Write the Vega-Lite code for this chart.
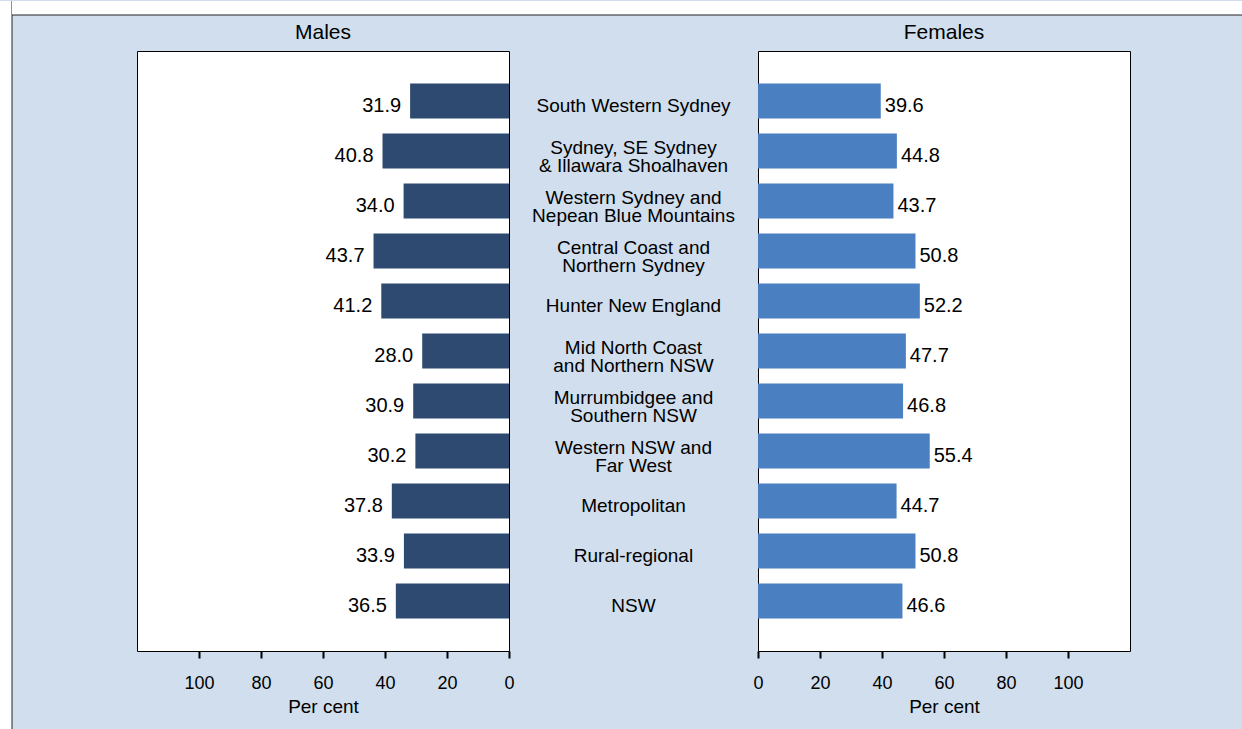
{
  "$schema": "https://vega.github.io/schema/vega-lite/v6.json",
  "background": "#d0deed",
  "padding": 0,
  "config": {
    "font": "Liberation Sans",
    "view": {"stroke": null},
    "concat": {"spacing": 0},
    "axis": {
      "labelFontSize": 18,
      "titleFontSize": 19,
      "titleFontWeight": "normal",
      "labelColor": "black",
      "titleColor": "black",
      "tickColor": "black",
      "tickSize": 7,
      "tickWidth": 2,
      "domain": false,
      "grid": false,
      "labelFlush": false,
      "labelPadding": 16.5,
      "titlePadding": 4.5
    },
    "title": {"fontSize": 21, "fontWeight": "normal", "color": "black", "offset": 8}
  },
  "datasets": {
    "d": [
      {"region": "South Western Sydney", "male": 31.9, "female": 39.6},
      {"region": "Sydney, SE Sydney\n& Illawara Shoalhaven", "male": 40.8, "female": 44.8},
      {"region": "Western Sydney and\nNepean Blue Mountains", "male": 34.0, "female": 43.7},
      {"region": "Central Coast and\nNorthern Sydney", "male": 43.7, "female": 50.8},
      {"region": "Hunter New England", "male": 41.2, "female": 52.2},
      {"region": "Mid North Coast\nand Northern NSW", "male": 28.0, "female": 47.7},
      {"region": "Murrumbidgee and\nSouthern NSW", "male": 30.9, "female": 46.8},
      {"region": "Western NSW and\nFar West", "male": 30.2, "female": 55.4},
      {"region": "Metropolitan", "male": 37.8, "female": 44.7},
      {"region": "Rural-regional", "male": 33.9, "female": 50.8},
      {"region": "NSW", "male": 36.5, "female": 46.6}
    ],
    "edge": [{"v": 0, "h": 1}]
  },
  "spacing": 0,
  "bounds": "flush",
  "hconcat": [
    {
      "data": {"name": "edge"},
      "width": 12,
      "height": 729,
      "view": {"fill": "white", "stroke": null},
      "mark": {"type": "rule", "color": "#222222", "strokeWidth": 1},
      "encoding": {
        "x": {"field": "h", "type": "quantitative", "scale": {"domain": [0, 1]}, "axis": null}
      }
    },
    {
      "spacing": 5,
      "vconcat": [
        {
          "data": {"name": "edge"},
          "width": 1230,
          "height": 14,
          "view": {"fill": "white", "stroke": null},
          "mark": {"type": "rule", "color": "#222222", "strokeWidth": 1},
          "encoding": {
            "y": {"field": "v", "type": "quantitative", "scale": {"domain": [0, 1]}, "axis": null}
          }
        },
        {
          "spacing": 0,
          "bounds": "flush",
          "hconcat": [
            {
              "data": {"name": "edge"},
              "width": 125,
              "height": 600,
              "mark": {"type": "point", "opacity": 0},
              "encoding": {}
            },
            {
              "data": {"name": "d"},
              "width": 372,
              "height": 600,
              "title": "Males",
              "view": {"fill": "white", "stroke": "black", "strokeWidth": 1},
              "encoding": {
                "y": {"field": "region", "type": "nominal", "sort": null, "scale": {"type": "band", "paddingInner": 0.3, "paddingOuter": 0.65}, "axis": null},
                "x": {"field": "male", "type": "quantitative", "scale": {"domain": [0, 120], "reverse": true, "nice": false}, "axis": {"values": [0, 20, 40, 60, 80, 100], "title": "Per cent"}}
              },
              "layer": [
                {"mark": {"type": "bar", "color": "#2e4a70"}},
                {
                  "mark": {"type": "text", "align": "right", "baseline": "middle", "dx": -9, "dy": 5, "fontSize": 20, "color": "black"},
                  "encoding": {"text": {"field": "male", "type": "quantitative", "format": ".1f"}}
                }
              ]
            },
            {
              "data": {"name": "d"},
              "width": 249,
              "height": 600,
              "encoding": {
                "y": {
                  "field": "region",
                  "type": "nominal",
                  "sort": null,
                  "scale": {
                    "type": "band",
                    "paddingInner": 0.3,
                    "paddingOuter": 0.65,
                    "domain": [
                      "South Western Sydney",
                      "Sydney, SE Sydney\n& Illawara Shoalhaven",
                      "Western Sydney and\nNepean Blue Mountains",
                      "Central Coast and\nNorthern Sydney",
                      "Hunter New England",
                      "Mid North Coast\nand Northern NSW",
                      "Murrumbidgee and\nSouthern NSW",
                      "Western NSW and\nFar West",
                      "Metropolitan",
                      "Rural-regional",
                      "NSW"
                    ]
                  },
                  "axis": null
                },
                "text": {"field": "region", "type": "nominal"}
              },
              "layer": [
                {
                  "transform": [{"filter": "indexof(datum.region, '\\n') < 0"}],
                  "mark": {"type": "text", "align": "center", "baseline": "middle", "dy": 5, "fontSize": 19, "color": "black"}
                },
                {
                  "transform": [{"filter": "indexof(datum.region, '\\n') >= 0"}],
                  "mark": {"type": "text", "align": "center", "baseline": "middle", "dy": -3.5, "fontSize": 19, "lineBreak": "\n", "lineHeight": 18, "color": "black"}
                }
              ]
            },
            {
              "data": {"name": "d"},
              "width": 372,
              "height": 600,
              "title": "Females",
              "view": {"fill": "white", "stroke": "black", "strokeWidth": 1},
              "encoding": {
                "y": {"field": "region", "type": "nominal", "sort": null, "scale": {"type": "band", "paddingInner": 0.3, "paddingOuter": 0.65}, "axis": null},
                "x": {"field": "female", "type": "quantitative", "scale": {"domain": [0, 120], "nice": false}, "axis": {"values": [0, 20, 40, 60, 80, 100], "title": "Per cent"}}
              },
              "layer": [
                {"mark": {"type": "bar", "color": "#4a7fc1"}},
                {
                  "mark": {"type": "text", "align": "left", "baseline": "middle", "dx": 4, "dy": 5, "fontSize": 20, "color": "black"},
                  "encoding": {"text": {"field": "female", "type": "quantitative", "format": ".1f"}}
                }
              ]
            }
          ]
        }
      ]
    }
  ]
}
